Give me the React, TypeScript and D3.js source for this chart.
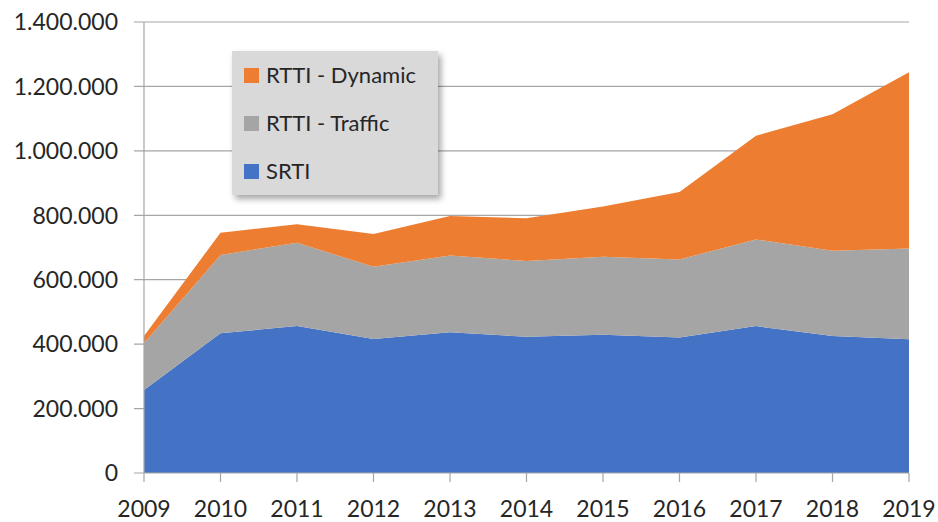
import React, { useEffect, useRef } from "react";
import * as d3 from "d3";

const years = [2009, 2010, 2011, 2012, 2013, 2014, 2015, 2016, 2017, 2018, 2019];
const srti = [258000, 434000, 456000, 416000, 437000, 423000, 429000, 421000, 456000, 425000, 415000];
const rttiTraffic = [145000, 243000, 259000, 224000, 238000, 235000, 242000, 242000, 269000, 265000, 282000];
const rttiDynamic = [22000, 69000, 57000, 102000, 123000, 133000, 156000, 209000, 322000, 424000, 547000];
const yTicks = [0, 200000, 400000, 600000, 800000, 1000000, 1200000, 1400000];

const seriesNames = ["SRTI", "RTTI - Traffic", "RTTI - Dynamic"];
const colors = ["#4472C4", "#A5A5A5", "#ED7D31"];
const legendOrder = ["RTTI - Dynamic", "RTTI - Traffic", "SRTI"];

const fmt = (v: number) => (v === 0 ? "0" : d3.format(",")(v).replace(/,/g, "."));

export default function App() {
  const ref = useRef<SVGSVGElement | null>(null);
  const width = 938;
  const height = 522;

  useEffect(() => {
    const svg = d3.select(ref.current);
    svg.selectAll("*").remove();

    const margin = { top: 22, right: 29, bottom: 49, left: 144 };
    const font = "Lato, 'DejaVu Sans', sans-serif";

    const x = d3
      .scaleLinear()
      .domain([years[0], years[years.length - 1]])
      .range([margin.left, width - margin.right]);
    const y = d3
      .scaleLinear()
      .domain([0, 1400000])
      .range([height - margin.bottom, margin.top]);

    const rows = years.map((yr, i) => ({
      year: yr,
      SRTI: srti[i],
      "RTTI - Traffic": rttiTraffic[i],
      "RTTI - Dynamic": rttiDynamic[i],
    }));
    const stacked = d3.stack<any>().keys(seriesNames)(rows);

    // gridlines
    svg
      .append("g")
      .selectAll("line")
      .data(yTicks.slice(1))
      .join("line")
      .attr("x1", margin.left - 10)
      .attr("x2", width - margin.right)
      .attr("y1", (d) => y(d))
      .attr("y2", (d) => y(d))
      .attr("stroke", "#a6a6a6")
      .attr("stroke-width", 1.2);

    const area = d3
      .area<any>()
      .x((d) => x(d.data.year))
      .y0((d) => y(d[0]))
      .y1((d) => y(d[1]));

    svg
      .append("g")
      .selectAll("path")
      .data(stacked)
      .join("path")
      .attr("fill", (_, i) => colors[i])
      .attr("d", area);

    // axes
    svg
      .append("line")
      .attr("x1", margin.left)
      .attr("x2", margin.left)
      .attr("y1", margin.top)
      .attr("y2", height - margin.bottom)
      .attr("stroke", "#a6a6a6")
      .attr("stroke-width", 1.2);
    svg
      .append("line")
      .attr("x1", margin.left - 10)
      .attr("x2", width - margin.right)
      .attr("y1", y(0))
      .attr("y2", y(0))
      .attr("stroke", "#a6a6a6")
      .attr("stroke-width", 1.2);
    svg
      .append("g")
      .selectAll("line")
      .data(years)
      .join("line")
      .attr("x1", (d) => x(d))
      .attr("x2", (d) => x(d))
      .attr("y1", y(0))
      .attr("y2", y(0) + 9)
      .attr("stroke", "#a6a6a6")
      .attr("stroke-width", 1.2);

    svg
      .append("g")
      .selectAll("text")
      .data(yTicks)
      .join("text")
      .attr("x", 118)
      .attr("y", (d) => y(d))
      .attr("dy", "0.36em")
      .attr("text-anchor", "end")
      .attr("font-family", font)
      .attr("font-size", 23)
      .attr("fill", "#262626")
      .text((d) => fmt(d));

    svg
      .append("g")
      .selectAll("text")
      .data(years)
      .join("text")
      .attr("x", (d) => x(d))
      .attr("y", 517)
      .attr("text-anchor", "middle")
      .attr("font-family", font)
      .attr("font-size", 23)
      .attr("fill", "#262626")
      .text((d) => String(d));

    // legend
    const defs = svg.append("defs");
    const f = defs
      .append("filter")
      .attr("id", "shadow")
      .attr("x", "-10%")
      .attr("y", "-10%")
      .attr("width", "130%")
      .attr("height", "130%");
    f.append("feDropShadow")
      .attr("dx", 3)
      .attr("dy", 4)
      .attr("stdDeviation", 3)
      .attr("flood-color", "#000")
      .attr("flood-opacity", 0.35);

    const lg = svg.append("g").attr("transform", "translate(232,51)");
    lg.append("rect")
      .attr("width", 206)
      .attr("height", 144)
      .attr("fill", "#d9d9d9")
      .attr("filter", "url(#shadow)");
    const items = lg
      .selectAll("g.item")
      .data(legendOrder)
      .join("g")
      .attr("class", "item")
      .attr("transform", (_, i) => `translate(12,${24 + i * 48})`);
    items
      .append("rect")
      .attr("y", -7)
      .attr("width", 15)
      .attr("height", 15)
      .attr("fill", (d) => colors[seriesNames.indexOf(d)]);
    items
      .append("text")
      .attr("x", 22)
      .attr("dy", "0.36em")
      .attr("font-family", font)
      .attr("font-size", 22)
      .attr("fill", "#262626")
      .text((d) => d);
  }, []);

  return (
    <div style={{ position: "absolute", left: 0, top: 0 }}>
      <svg ref={ref} width={width} height={height} style={{ display: "block", background: "#fff" }} />
    </div>
  );
}
